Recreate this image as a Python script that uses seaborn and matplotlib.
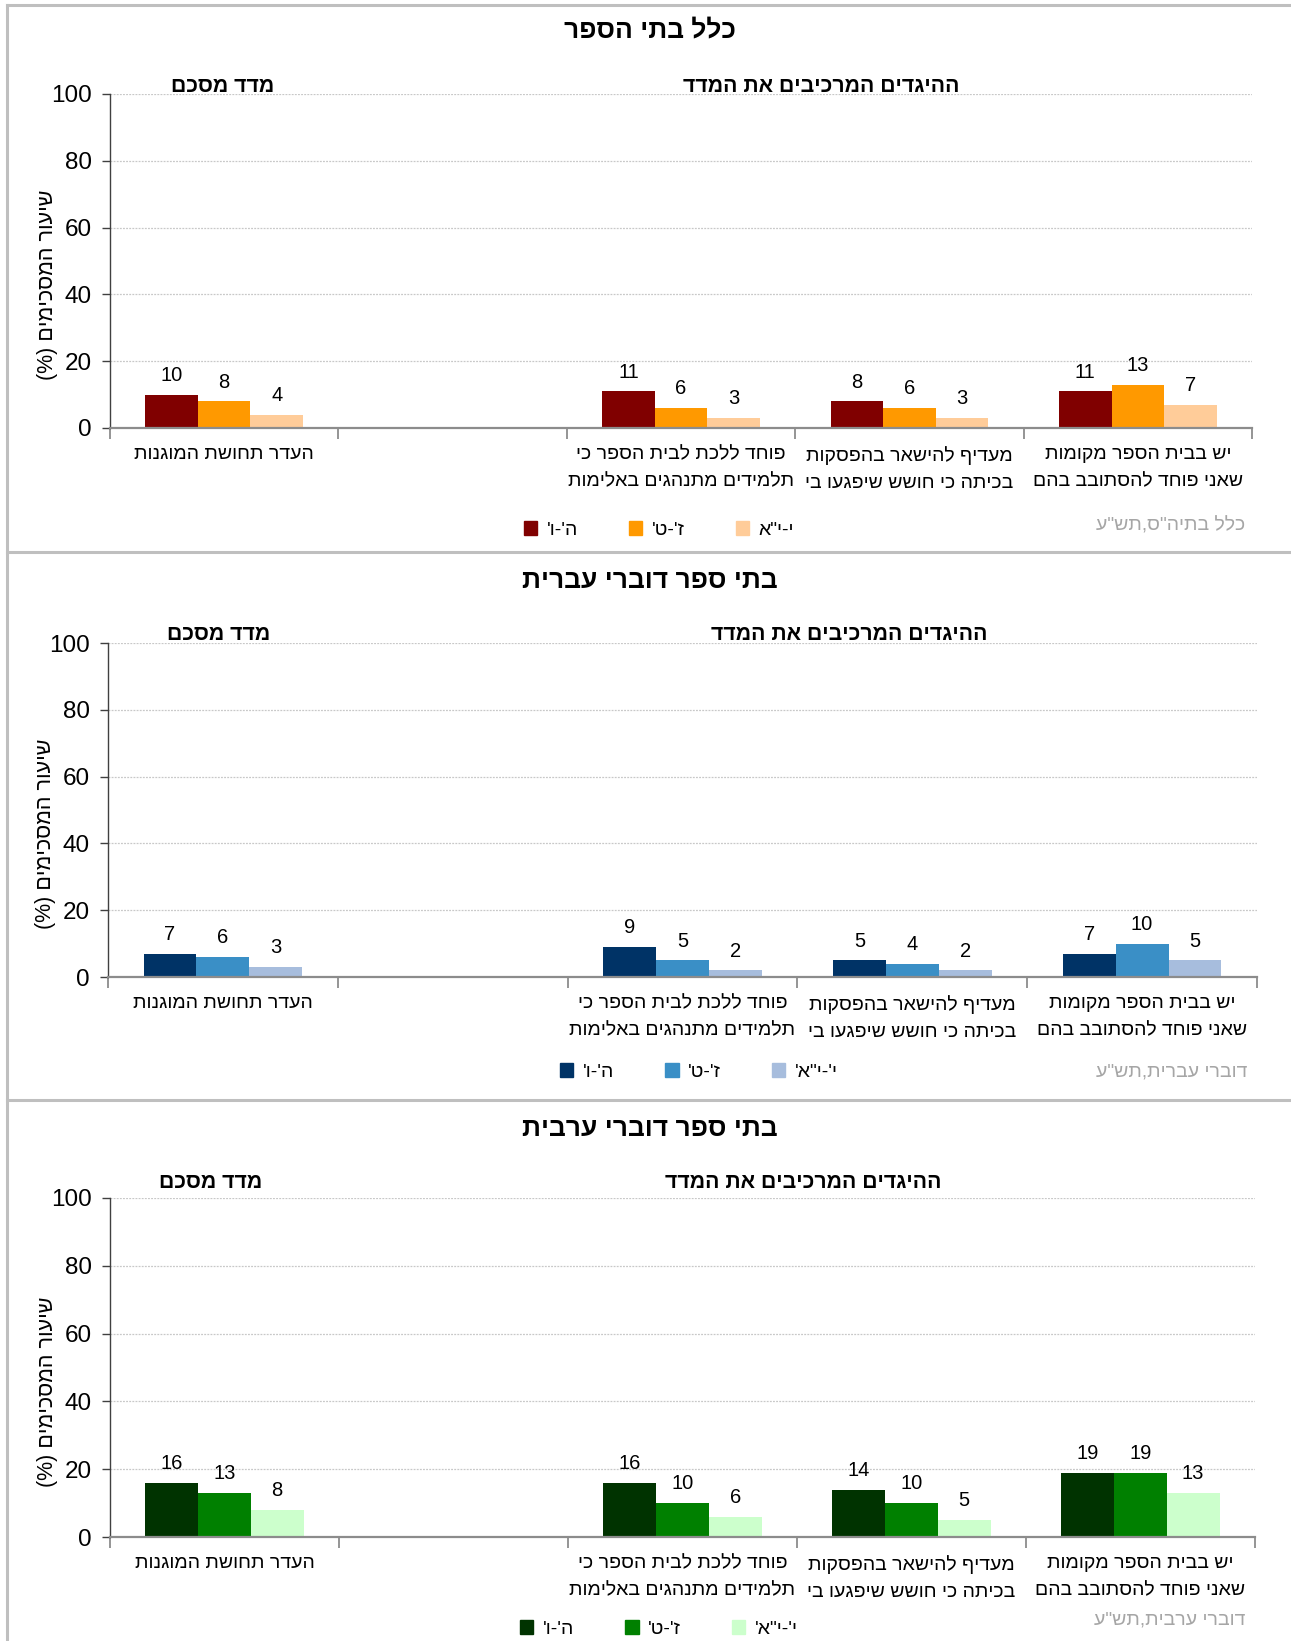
import matplotlib.pyplot as plt
import seaborn as sns
import pandas as pd
from matplotlib.lines import Line2D

# statements (logical hebrew order), left to right on the axis
item_summary = "העדר תחושת המוגנות"
item_afraid_go = "פוחד ללכת לבית הספר כי\nתלמידים מתנהגים באלימות"
item_stay_in = "מעדיף להישאר בהפסקות\nבכיתה כי חושש שיפגעו בי"
item_places = "יש בבית הספר מקומות\nשאני פוחד להסתובב בהם"
items = [item_summary, item_afraid_go, item_stay_in, item_places]
order = [item_summary, " ", item_afraid_go, item_stay_in, item_places]

grades_all = ["ה'-ו'", "ז'-ט'", 'י-י"א']
grades_sub = ["ה'-ו'", "ז'-ט'", 'י\'-י"א\'']

# values (%)
all_5_6 = [10, 11, 8, 11]
all_7_9 = [8, 6, 6, 13]
all_10_11 = [4, 3, 3, 7]

heb_5_6 = [7, 9, 5, 7]
heb_7_9 = [6, 5, 4, 10]
heb_10_11 = [3, 2, 2, 5]

arb_5_6 = [16, 16, 14, 19]
arb_7_9 = [13, 10, 10, 19]
arb_10_11 = [8, 6, 5, 13]

titles = ["כלל בתי הספר", "בתי ספר דוברי עברית", "בתי ספר דוברי ערבית"]
sources = ['כלל בתיה"ס,תש"ע', 'דוברי עברית,תש"ע', 'דוברי ערבית,תש"ע']
colors_all = ["#800000", "#FF9900", "#FFCC99"]
colors_heb = ["#003366", "#3A8FC6", "#A7BDDD"]
colors_arb = ["#003300", "#008000", "#CCFFCC"]

ylabel = "שיעור המסכימים (%)"
sub_summary = "מדד מסכם"
sub_items = "ההיגדים המרכיבים את המדד"

W, H = 1291, 1641
FONT = "Liberation Sans"


def vis(s):
    # matplotlib has no bidi: put hebrew into visual order line by line
    mirror = str.maketrans("()", ")(")
    return "\n".join(line[::-1].translate(mirror) for line in s.split("\n"))


def fx(x):
    return x / W


def fy(y):
    return 1 - y / H


def panel(fig, box, vals, grades, colors, title, source, title_y, sub_y,
          sub_x, legend_xy, source_xy):
    left, right, top, bottom = box
    ax = fig.add_axes([fx(left), fy(bottom), fx(right - left), (bottom - top) / H])

    rows = []
    for g, v in zip(grades, vals):
        for it, val in zip(items, v):
            rows.append({"item": it, "grade": g, "value": val})
    df = pd.DataFrame(rows)

    sns.barplot(data=df, x="item", y="value", hue="grade", order=order,
                hue_order=grades, palette=colors, width=0.69, gap=0,
                saturation=1, errorbar=None, ax=ax, legend=False)

    for cont in ax.containers:
        ax.bar_label(cont, fmt="%g", padding=7, fontsize=14.5, family=FONT)

    ax.set_ylim(0, 100)
    ax.set_xlim(-0.5, 4.5)
    ax.set_yticks([0, 20, 40, 60, 80, 100])
    ax.yaxis.grid(True, color="#c8c8c8", lw=0.9, ls=(0, (1.5, 1)))
    ax.set_axisbelow(True)
    ax.set_xlabel("")
    ax.set_ylabel("")

    ax.set_xticks(range(5))
    ax.set_xticklabels([vis(o) for o in order], fontsize=14, family=FONT,
                       linespacing=1.75, va="top")
    ax.set_xticks([i - 0.5 for i in range(6)], minor=True)
    ax.tick_params(axis="x", which="major", length=0, pad=13)
    ax.tick_params(axis="x", which="minor", length=8, width=1.3,
                   color="#8c8c8c", direction="out")
    ax.tick_params(axis="y", length=6, width=1, color="#404040",
                   labelsize=17.5, pad=7)
    for lab in ax.get_yticklabels():
        lab.set_family(FONT)

    for s in ["top", "right"]:
        ax.spines[s].set_visible(False)
    ax.spines["left"].set_color("#404040")
    ax.spines["left"].set_linewidth(1)
    ax.spines["bottom"].set_color("#8c8c8c")
    ax.spines["bottom"].set_linewidth(1.6)

    fig.text(fx(650), fy(title_y), vis(title), ha="center", va="center",
             fontsize=19, fontweight="bold", family=FONT)
    fig.text(fx(sub_x[0]), fy(sub_y), vis(sub_summary), ha="center",
             va="center", fontsize=15.3, fontweight="bold", family=FONT)
    fig.text(fx(sub_x[1]), fy(sub_y), vis(sub_items), ha="center",
             va="center", fontsize=15.3, fontweight="bold", family=FONT)

    fig.text(fx(left - 62), fy((top + bottom) / 2 + 24), vis(ylabel),
             rotation=90, ha="center", va="center", fontsize=15.5, family=FONT)

    handles = [plt.Rectangle((0, 0), 1, 1, color=c) for c in colors]
    fig.legend(handles, [vis(g) for g in grades], ncol=3, frameon=False,
               loc="center", bbox_to_anchor=(fx(legend_xy[0]), fy(legend_xy[1])),
               prop={"family": FONT, "size": 14}, handlelength=0.7,
               handleheight=0.7, handletextpad=0.5, columnspacing=2.6)

    fig.text(fx(source_xy[0]), fy(source_xy[1]), vis(source), ha="right",
             va="center", fontsize=14, color="#a6a6a6", family=FONT)
    return ax


fig = plt.figure(figsize=(W / 100, H / 100), dpi=100)

panel(fig, (110, 1252, 94, 428), [all_5_6, all_7_9, all_10_11], grades_all,
      colors_all, titles[0], sources[0], 30, 87, (223, 821), (659, 530),
      (1245, 526))
panel(fig, (108, 1257, 643, 977), [heb_5_6, heb_7_9, heb_10_11], grades_sub,
      colors_heb, titles[1], sources[1], 581, 634, (219, 849), (699, 1072),
      (1247, 1072))
panel(fig, (110, 1255, 1198, 1537), [arb_5_6, arb_7_9, arb_10_11], grades_sub,
      colors_arb, titles[2], sources[2], 1129, 1182, (211, 803), (659, 1629),
      (1245, 1620))

# panel frames
for y in [5, 552, 1100]:
    fig.add_artist(Line2D([fx(7), 1], [fy(y), fy(y)], color="#bfbfbf", lw=2.2))
fig.add_artist(Line2D([fx(7), fx(7)], [fy(5), 0], color="#bfbfbf", lw=2.2))

plt.savefig("out.png", dpi=100)
plt.close()
